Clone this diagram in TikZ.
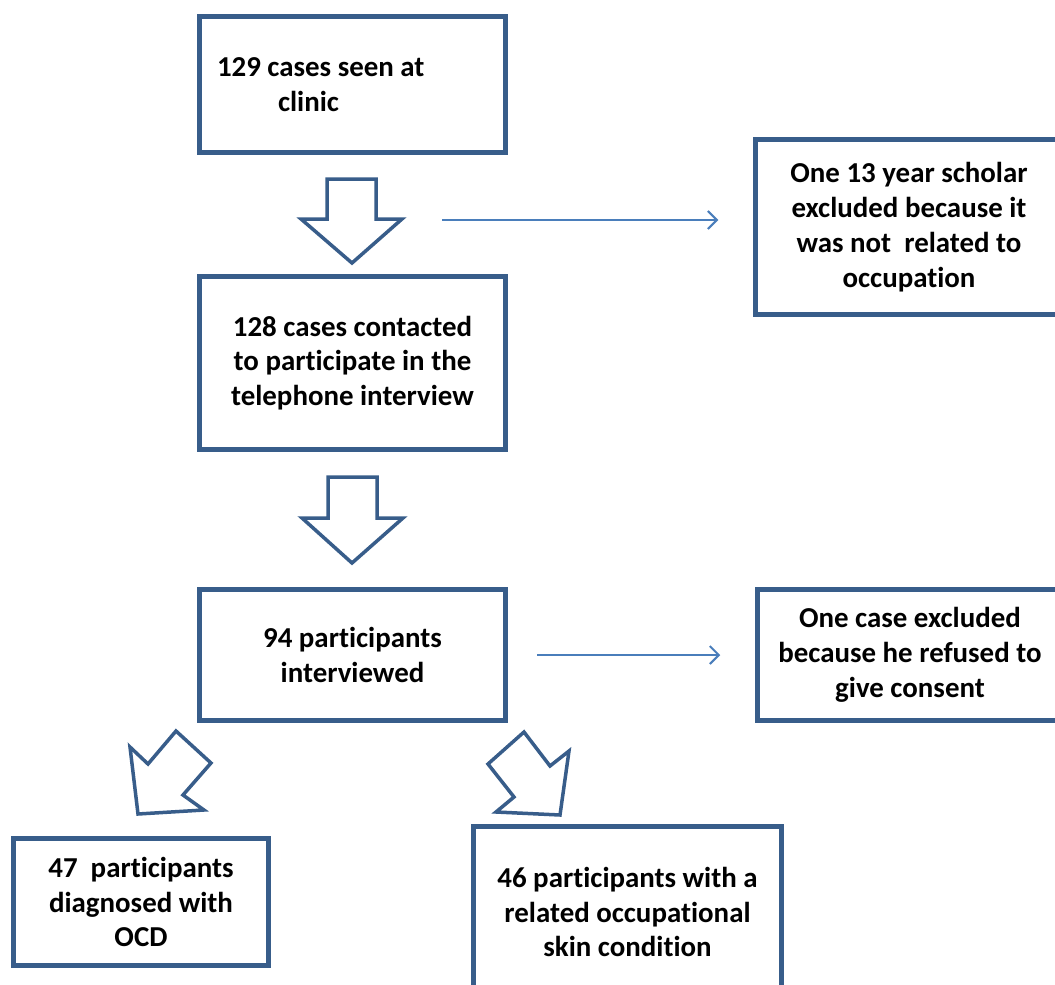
\documentclass[tikz,border=0pt]{standalone}
\usepackage{fontspec}
\setmainfont[Ligatures=NoCommon]{Carlito}
\usetikzlibrary{arrows.meta}

\definecolor{boxblue}{RGB}{56,93,138}
\definecolor{lineblue}{RGB}{74,126,187}

\tikzset{
    box/.style={draw=boxblue, line width=4.5bp, fill=white, align=center,
        font=\fontsize{29}{35}\selectfont\bfseries},
    blockarrow/.style={draw=boxblue, line width=3.5bp, fill=white, line join=miter},
    thinarrow/.style={draw=lineblue, line width=2bp,
        -{Straight Barb[length=9bp,width=18bp]}, shorten >=35bp}
}

\begin{document}
\begin{tikzpicture}[x=1bp, y=-1bp]
    \useasboundingbox (0,0) rectangle (1055,985);
    \clip (0,0) rectangle (1055,985);

    % Main column
    \node[box, minimum width=306bp, minimum height=136bp, text width=271bp, align=flush left]
        (clinic) at (352.5,84.5) {129 cases seen at\\\hspace*{61bp}clinic};
    \node[box, minimum width=306bp, minimum height=173bp]
        (contacted) at (352.5,363) {128 cases contacted\\to participate in the\\telephone interview};
    \node[box, minimum width=306bp, minimum height=131bp]
        (interviewed) at (352.5,655) {94 participants\\interviewed};

    % Exclusions
    \node[box, minimum width=307bp, minimum height=175bp]
        (scholar) at (909,227) {One 13 year scholar\\excluded because it\\was not~ related to\\occupation};
    \node[box, minimum width=305bp, minimum height=131bp]
        (refused) at (910,655) {One case excluded\\because he refused to\\give consent};

    % Outcomes
    \node[box, minimum width=255bp, minimum height=127bp]
        (ocd) at (141,902) {47~ participants\\diagnosed with\\OCD};
    \node[box, minimum width=308bp, minimum height=171bp]
        (skin) at (627.5,912) {46 participants with a\\related occupational\\skin condition};

    % Block arrows
    \draw[blockarrow] (327,179) -- (376,179) -- (376,219) -- (402,219) -- (352,263)
        -- (301,219) -- (327,219) -- cycle;
    \draw[blockarrow] (328,477) -- (377,477) -- (377,518) -- (403,518) -- (352,563)
        -- (302,518) -- (328,518) -- cycle;
    \draw[blockarrow] (176,731) -- (211,763) -- (183,795) -- (204,810) -- (138,814)
        -- (130,747) -- (148,764) -- cycle;
    \draw[blockarrow] (524,732) -- (550,766) -- (569,751) -- (560,815) -- (496,812)
        -- (514,797) -- (488,764) -- cycle;

    % Thin arrows
    \coordinate (s1) at (442,220);
    \coordinate (s2) at (537,655);
    \draw[thinarrow] (s1) -- (s1 -| scholar.west);
    \draw[thinarrow] (s2) -- (s2 -| refused.west);
\end{tikzpicture}
\end{document}
